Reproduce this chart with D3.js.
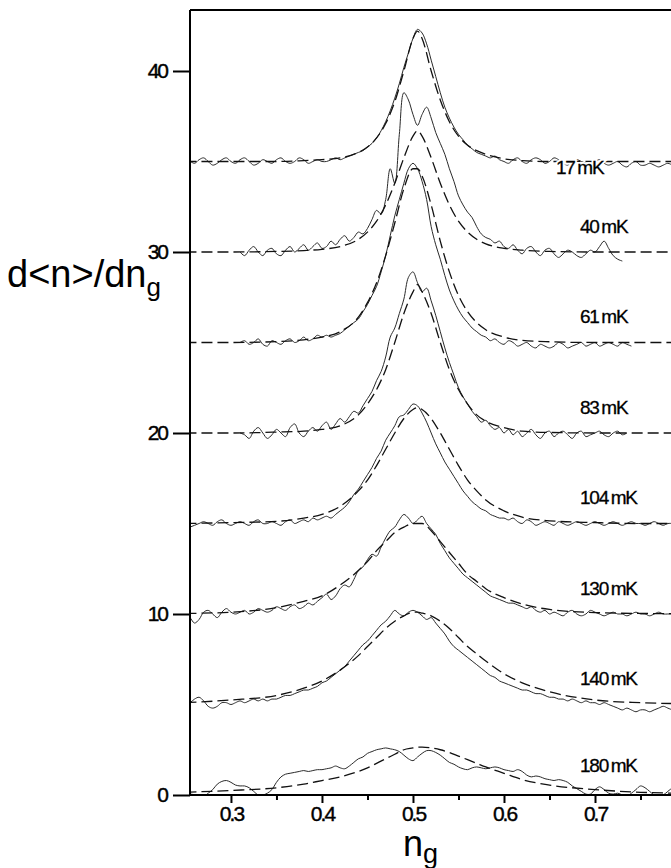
<!DOCTYPE html>
<html><head><meta charset="utf-8">
<script src="https://cdn.jsdelivr.net/npm/d3@7"></script>
<style>body{margin:0;background:#fff}svg{display:block}</style>
</head><body>
<svg id="c" width="671" height="868"></svg>
<script>
// ---- data ----
const temps = ["17\u2009mK","40\u2009mK","61\u2009mK","83\u2009mK","104\u2009mK","130\u2009mK","140\u2009mK","180\u2009mK"];
const offsets = [35,30,25,20,15,10,5,0];
const gridStart = 0.25, gridStep = 0.005; // n_g sampling of measured traces
const N = null;
const s17 = [0,0,-0.1,0.1,0.2,0,-0.2,-0.1,0.1,0.2, 0,-0.1,0.1,0.2,0,-0.2,-0.1,0.1,0,-0.1,
 0.1,0.2,0,-0.1,0,0.2,0.1,-0.1,0,0.1, 0,0,0.1,0.2,0.1,0.2,0.3,0.4,0.5,0.6,
 0.8,1.0,1.3,1.7,2.2,2.8,3.5,4.3,5.2,6.0, 6.8,7.3,7.1,6.5,5.6,4.7,3.8,3.0,2.4,1.9,
 1.5,1.2,0.9,0.7,0.5,0.4,0.3,0.2,0.3,0.1, 0,-0.1,0.1,0.2,0,-0.1,0.1,0.2,0.1,-0.1,
 0,0.2,0.1,-0.1,-0.2,0,0.1,0,-0.1,-0.2, 0,0.1,-0.1,-0.2,-0.1,0,-0.2,-0.3,-0.1,0,-0.2,
 -0.2,-0.1,-0.2,-0.3,-0.2,-0.1,-0.2];
const s40 = [N,N,N,N,N,N,N,N,N,N, N,N,0,-0.2,0.1,0.3,0,-0.2,0.1,0.2,
 -0.1,-0.2,0.1,0.3,0,0.2,0.4,0.1,0.3,0.5, 0.2,0.3,0.6,0.4,0.7,0.9,0.6,0.8,1.1,1.0,
 1.3,1.8,2.3,2.1,2.9,4.6,3.8,6.5,8.8,8.4, 7.6,7.0,7.6,8.0,7.4,6.6,6.0,5.4,4.6,3.9,
 3.1,2.6,2.2,1.9,1.4,1.0,0.8,0.7,0.5,0.6, 0.3,0.2,0.4,0.1,-0.1,0.2,0.3,0,-0.2,0.1,
 0.2,-0.1,-0.3,-0.1,0.1,0,-0.2,-0.3,-0.1,0.1, 0,0.3,0.6,0.2,-0.2,-0.4,-0.5,N,N,N,N];
const s61 = [N,N,N,N,N,N,N,N,N,N, N,N,0,0.1,-0.1,0,0.2,-0.1,-0.2,0.1,
 0,-0.1,0.1,0.2,0,0.1,0.3,0.1,0.2,0.4, 0.3,0.4,0.3,0.4,0.5,0.7,0.9,1.1,1.3,1.7,
 2.1,2.6,3.1,3.9,4.8,5.9,7.0,7.9,8.8,9.6, 9.9,9.6,8.9,7.9,6.4,5.4,4.6,3.7,2.9,2.3,
 1.8,1.4,1.1,0.8,0.6,0.4,0.3,0.1,0.2,0, -0.1,0.1,0,-0.2,-0.1,0,-0.2,-0.3,-0.1,-0.2,
 -0.3,-0.2,0,-0.1,-0.3,-0.2,-0.1,0,-0.2,-0.1, 0,-0.2,-0.1,0,-0.1,-0.2,0,-0.1,-0.2,N,N];
const s83 = [N,N,N,N,N,N,N,N,N,N, N,N,0,-0.1,-0.3,0.1,0.3,0,-0.3,-0.1,
 0.2,0,-0.2,0.3,0.5,0,-0.2,0.1,0.3,0.1, 0.4,0.6,0.2,0.5,0.8,0.6,0.9,1.2,1.1,1.5,
 1.9,2.3,2.9,3.4,4.2,5.3,5.8,6.6,7.4,8.6, 8.9,8.3,7.8,8.0,7.3,6.5,5.6,4.7,3.9,3.2,
 2.5,2.0,1.6,1.2,0.9,0.6,0.7,0.4,0.2,0.3, 0,0.2,-0.1,0.1,-0.2,0,0.2,-0.1,-0.3,0,
 0.1,-0.2,0,0.1,-0.1,-0.3,0,0.1,-0.2,-0.1, 0,0.1,-0.1,-0.2,0,0.1,-0.1,0,N,N,N];
const s104 = [-0.3,-0.2,-0.1,0,0.1,0,-0.1,0.1,0.2,0, -0.1,0,0.1,0,-0.1,0.1,0.2,0,0,0.1,
 0,-0.1,0.1,0.2,0,0.1,0.2,0.1,0.3,0.2, 0.3,0.4,0.3,0.5,0.7,0.9,1.2,1.6,1.9,2.3,
 2.7,3.1,3.6,4.0,4.6,5.0,5.4,5.9,6.0,6.3, 6.6,6.5,6.1,5.6,5.0,4.4,3.9,3.4,3.0,2.6,
 2.2,1.8,1.5,1.2,1.0,0.8,0.7,0.5,0.4,0.3, 0.3,0.2,0.3,0.1,0,0.2,0.1,-0.1,0,0.1,
 0,-0.1,0.1,0,-0.1,0,0.1,0,-0.1,0, 0.1,0,-0.1,0,0.1,0,-0.1,0,0.1,0,0,
 -0.1,0,0.1,0,-0.1,0,0];
const s130 = [0,-0.2,-0.5,-0.3,0.1,0.2,0,-0.2,0.1,0.3, 0.1,0,0.1,0.2,0,0.1,0.3,0.2,0.1,0.2,
 0.4,0.3,0.2,0.4,0.5,0.3,0.4,0.6,0.5,0.7, 0.9,1.1,0.8,1.0,1.4,1.6,1.5,1.9,2.4,2.6,
 3.0,3.3,3.2,3.7,4.2,4.6,4.8,5.2,5.5,5.3, 5.0,5.2,5.4,5.0,4.7,4.4,3.9,3.5,3.1,2.8,
 2.5,2.2,2.0,1.8,1.6,1.4,1.2,1.0,0.9,0.8, 0.7,0.6,0.6,0.5,0.4,0.3,0.4,0.2,0.1,0.2,
 0,0.1,0,-0.1,0.1,0.2,0,-0.1,0,0.2, 0.1,0,-0.1,0,0.1,0,0,-0.1,0,0.1,0,
 0,-0.1,0,0.1,0,0,0];
const s140 = [0,0.1,0.3,0.4,0.2,-0.1,-0.2,-0.1,0.1,0.1, 0,0.1,0.2,0.1,0.2,0.3,0.2,0.3,0.2,0.3,
 0.3,0.4,0.5,0.5,0.6,0.7,0.8,0.8,0.9,1.0, 1.2,1.3,1.5,1.7,1.9,2.1,2.4,2.7,3.0,3.3,
 3.5,3.8,4.1,4.4,4.6,4.9,5.2,5.0,4.9,5.1, 5.2,5.1,4.9,4.7,4.8,4.5,4.2,3.9,3.5,3.2,
 3.0,2.8,2.6,2.4,2.2,2.0,1.8,1.6,1.5,1.3, 1.2,1.1,1.0,0.9,0.8,0.8,0.7,0.6,0.6,0.5,
 0.4,0.4,0.3,0.3,0.2,0.3,0.2,0.1,0.2,0.1, 0.1,0,0.1,0,-0.1,-0.2,-0.3,-0.2,-0.3,-0.4,-0.3,
 -0.3,-0.4,-0.3,-0.2,-0.1,-0.2,-0.3];
const s180 = [0,0.05,0,-0.15,-0.1,0.1,0.3,0.6,0.75,0.8, 0.7,0.55,0.5,0.5,0.4,0.2,0,0,0.1,0.3,
 0.7,1.0,1.15,1.2,1.25,1.3,1.35,1.3,1.35,1.4, 1.4,1.45,1.5,1.6,1.5,1.45,1.6,1.8,2.0,2.1,
 2.3,2.4,2.5,2.55,2.6,2.55,2.5,2.4,2.2,2.0, 1.9,2.1,2.3,2.45,2.45,2.35,2.2,2.0,1.8,1.7,
 1.55,1.45,1.4,1.5,1.55,1.5,1.45,1.5,1.55,1.5, 1.4,1.35,1.3,1.4,1.3,1.1,1.0,1.05,1.0,0.9,
 0.85,0.8,0.85,0.8,0.7,0.5,0.35,0.2,0.05,0.05, 0.3,0.45,0.3,0.1,0.05,0.1,0,-0.05,0.1,0.3,0.5,
 0.4,0.2,0,-0.1,0,0.2,0.4];
const traces = [s17,s40,s61,s83,s104,s130,s140,s180];

// fitted curves (dashed), sampled at fitN
const fitN = [0.25,0.30,0.35,0.38,0.40,0.42,0.44,0.45,0.46,0.47,0.48,0.49,0.50,0.505,0.51,0.52,0.53,0.54,0.55,0.56,0.57,0.58,0.60,0.62,0.65,0.70,0.75,0.79];
const f17  = [0,0,0,0.05,0.1,0.2,0.5,0.8,1.3,2.1,3.3,5.0,6.8,7.2,6.8,5.0,3.4,2.2,1.4,0.9,0.6,0.4,0.15,0.05,0,0,0,0];
const f40  = [0,0,0.03,0.08,0.15,0.3,0.7,1.1,1.7,2.6,3.8,5.2,6.4,6.7,6.4,5.2,3.8,2.6,1.7,1.1,0.7,0.45,0.2,0.1,0.03,0,0,0];
const f61  = [0,0,0.05,0.15,0.3,0.6,1.4,2.2,3.3,4.8,6.6,8.5,9.6,9.6,9.2,7.6,5.6,3.9,2.6,1.7,1.1,0.7,0.3,0.12,0.04,0,0,0];
const f83  = [0,0,0.05,0.1,0.2,0.4,1.0,1.6,2.4,3.5,5.0,6.6,7.8,8.2,7.8,6.6,5.0,3.5,2.4,1.6,1.0,0.65,0.3,0.1,0.03,0,0,0];
const f104 = [0,0.05,0.12,0.3,0.5,0.95,1.8,2.4,3.2,4.1,5.0,5.8,6.3,6.4,6.3,5.8,5.0,4.1,3.2,2.4,1.8,1.3,0.7,0.35,0.15,0.05,0,0];
const f130 = [0.03,0.1,0.35,0.7,1.0,1.6,2.4,2.9,3.5,4.0,4.5,4.8,5.0,5.0,5.0,4.6,4.0,3.4,2.8,2.2,1.8,1.4,0.9,0.55,0.25,0.08,0.03,0.02];
const f140 = [0.1,0.25,0.5,0.9,1.3,1.9,2.7,3.2,3.7,4.2,4.6,4.9,5.1,5.1,5.05,4.9,4.6,4.2,3.7,3.2,2.8,2.4,1.7,1.2,0.7,0.25,0.1,0.05];
const f180 = [0.15,0.25,0.4,0.6,0.8,1.0,1.3,1.5,1.75,2.0,2.25,2.5,2.6,2.65,2.65,2.6,2.5,2.35,2.15,1.95,1.75,1.55,1.2,0.85,0.55,0.3,0.15,0.1];
const fits = [f17,f40,f61,f83,f104,f130,f140,f180];

const yTicks = [0,10,20,30,40];
const xTicks = [0.3,0.4,0.5,0.6,0.7];
const xMinorTicks = [0.35,0.45,0.55,0.65,0.75];

// ---- drawing ----
const svg = d3.select("#c");
const xDom = [0.255, 0.7835], yDom = [0, 43.37];
const x = d3.scaleLinear().domain(xDom).range([190,671]);
const y = d3.scaleLinear().domain(yDom).range([795,10]);
const narrow = "'Liberation Sans Narrow','Arial Narrow','Liberation Sans',Arial,sans-serif";

svg.append("clipPath").attr("id","clip").append("rect")
  .attr("x",x(xDom[0])).attr("y",y(yDom[1])).attr("width",671-x(xDom[0])).attr("height",y(0)-y(yDom[1]));

const solid = d3.line().defined(d => d[1] !== null).x(d => x(d[0])).y(d => y(d[1])).curve(d3.curveCatmullRom.alpha(0.5));
const smooth = d3.line().x(d => x(d[0])).y(d => y(d[1])).curve(d3.curveMonotoneX);

const plot = svg.append("g").attr("clip-path","url(#clip)");
traces.forEach((arr, k) => {
  const pts = arr.map((v, i) => [gridStart + i*gridStep, v === null ? null : v + offsets[k]]);
  plot.append("path").attr("d", solid(pts)).attr("fill","none")
    .attr("stroke","#2a2a2a").attr("stroke-width",1);
  const fp = fits[k].map((v, i) => [fitN[i], v + offsets[k]]);
  plot.append("path").attr("d", smooth(fp)).attr("fill","none")
    .attr("stroke","#111").attr("stroke-width",1.3).attr("stroke-dasharray","11,5");
});
temps.forEach((t, k) => {
  const lx = k === 0 ? 556 : 580;
  const ly = y(offsets[k]) - (k === 0 ? -13 : k === 7 ? 23 : 19);
  // white halo so the label sits over the trace
  svg.append("text").attr("x", lx).attr("y", ly)
    .attr("font-family", narrow).attr("font-size", 19).attr("letter-spacing", -1.2)
    .attr("fill","#fff").attr("stroke","#fff").attr("stroke-width",4).text(t);
  svg.append("text").attr("x", lx).attr("y", ly)
    .attr("font-family", narrow).attr("font-size", 19).attr("letter-spacing", -1.2)
    .attr("fill","#000").attr("stroke","#000").attr("stroke-width",0.3).text(t);
});

// frame / axes
const ax = svg.append("g").attr("stroke","#000").attr("stroke-width",2).attr("fill","none");
ax.append("line").attr("x1",x(xDom[0])).attr("x2",x(xDom[0])).attr("y1",y(yDom[1])).attr("y2",y(0));
ax.append("line").attr("x1",x(xDom[0])).attr("x2",671).attr("y1",y(yDom[1])).attr("y2",y(yDom[1]));
ax.append("line").attr("x1",x(xDom[0])).attr("x2",671).attr("y1",y(0)).attr("y2",y(0));

svg.append("g").attr("transform",`translate(${x(xDom[0])},0)`)
  .call(d3.axisLeft(y).tickValues(yTicks).tickSize(17).tickPadding(6).tickFormat(d3.format("d")));
svg.append("g").attr("transform",`translate(0,${y(0)})`)
  .call(d3.axisBottom(x).tickValues(xTicks).tickSize(8).tickPadding(3).tickFormat(d3.format(".1f")));
svg.append("g").attr("transform",`translate(0,${y(0)})`)
  .call(d3.axisBottom(x).tickValues(xMinorTicks).tickSize(5).tickFormat(""));
svg.selectAll(".domain").remove();
svg.selectAll(".tick line").attr("stroke","#000").attr("stroke-width",2);
svg.selectAll(".tick text").attr("font-family",narrow).attr("font-size",21)
  .attr("letter-spacing",-2).attr("fill","#000").attr("stroke","#000").attr("stroke-width",0.4);

// axis titles
const yt = svg.append("text").attr("x",7).attr("y",287)
  .attr("font-family","'Liberation Sans',Arial,sans-serif").attr("font-size",38).attr("fill","#000");
yt.append("tspan").text("d<n>/dn");
yt.append("tspan").attr("font-size",26).attr("dy",9).text("g");

const xt = svg.append("text").attr("x",403).attr("y",856)
  .attr("font-family","'Liberation Sans',Arial,sans-serif").attr("font-size",36).attr("fill","#000");
xt.append("tspan").text("n");
xt.append("tspan").attr("font-size",27).attr("dy",7).text("g");
</script>
</body></html>
